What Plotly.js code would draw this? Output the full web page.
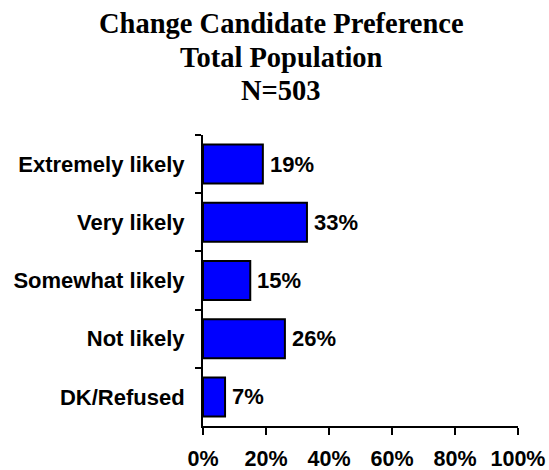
<!DOCTYPE html>
<html>
<head>
<meta charset="utf-8">
<script src="https://cdn.plot.ly/plotly-3.0.1.min.js"></script>
<style>
  html, body { margin: 0; padding: 0; background: #fff; }
  #chart { width: 549px; height: 470px; }
</style>
</head>
<body>
<div id="chart"></div>
<script>
const categories = ["Extremely likely", "Very likely", "Somewhat likely", "Not likely", "DK/Refused"];
const values = [19, 33, 15, 26, 7];
const valueLabels = ["19%", "33%", "15%", "26%", "7%"];
const titleLines = ["Change Candidate Preference", "Total Population", "N=503"];
const xTickVals = [0, 20, 40, 60, 80, 100];
const xTickText = ["0%", "20%", "40%", "60%", "80%", "100%"];

const sansBold = "Arial, 'Liberation Sans', sans-serif";
const serif = "'Times New Roman', 'Liberation Serif', serif";

const trace = {
  type: "bar",
  orientation: "h",
  x: values,
  y: categories,
  marker: { color: "#0000FF", line: { color: "#000000", width: 2 } },
  hoverinfo: "skip"
};

const titleY = [1.3835, 1.2666, 1.152];
const annotations = [];
titleLines.forEach((t, i) => {
  annotations.push({
    text: "<b>" + t + "</b>",
    xref: "paper", yref: "paper",
    x: 0.248, y: titleY[i],
    xanchor: "center", yanchor: "middle",
    showarrow: false,
    font: { family: serif, size: 28.5, color: "#000" }
  });
});
categories.forEach((c, i) => {
  annotations.push({
    text: "<b>" + valueLabels[i] + "</b>",
    x: values[i], y: c,
    xref: "x", yref: "y",
    xanchor: "left", yanchor: "middle",
    xshift: 5,
    showarrow: false,
    font: { family: sansBold, size: 22, color: "#000" }
  });
});

const layout = {
  width: 549, height: 470,
  margin: { l: 203, r: 31, t: 135, b: 44, pad: 0 },
  paper_bgcolor: "#fff",
  plot_bgcolor: "#fff",
  showlegend: false,
  bargap: 0.33,
  xaxis: {
    range: [0, 100],
    tickvals: xTickVals,
    ticktext: xTickText,
    ticks: "outside", ticklen: 7, tickwidth: 2, tickcolor: "#000",
    showline: true, linecolor: "#000", linewidth: 2,
    showgrid: false, zeroline: false,
    ticklabelstandoff: 5,
    tickfont: { family: sansBold, size: 21.5, color: "#000", weight: "bold" },
    fixedrange: true
  },
  yaxis: {
    type: "category",
    autorange: "reversed",
    tickson: "boundaries",
    ticks: "outside", ticklen: 6, tickwidth: 2, tickcolor: "#000",
    showline: true, linecolor: "#000", linewidth: 2,
    showgrid: false, zeroline: false,
    ticklabelstandoff: 12,
    tickfont: { family: sansBold, size: 22, color: "#000", weight: "bold" },
    fixedrange: true
  },
  annotations: annotations
};

Plotly.newPlot("chart", [trace], layout, { displayModeBar: false, staticPlot: true });
</script>
</body>
</html>
